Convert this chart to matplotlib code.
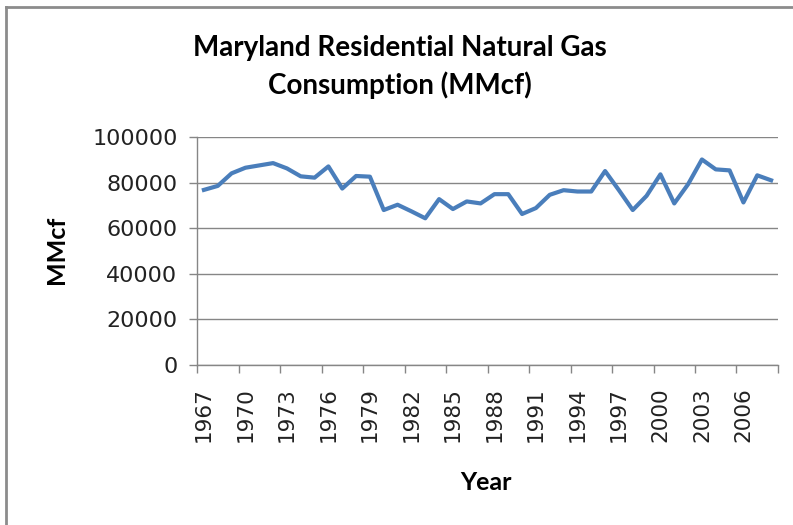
import numpy as np
import matplotlib.pyplot as plt
from matplotlib.lines import Line2D

# --- data ---
years = list(range(1967, 2009))
consumption = [76800, 78550, 84060, 86520, 87540, 88550, 86230, 82750, 82170, 87100,
               77390, 82900, 82600, 67970, 70290, 67400, 64350, 72750, 68400, 71740,
               70870, 74930, 74930, 66230, 68840, 74640, 76670, 76090, 76090, 85070,
               76670, 67970, 74200, 83620, 70870, 79280, 90140, 85800, 85360, 71300,
               83190, 81010]
yticks = [0, 20000, 40000, 60000, 80000, 100000]

W, H = 793, 525
fig = plt.figure(figsize=(W / 100, H / 100), dpi=100)
ax = fig.add_axes([197 / W, 1 - 365 / H, (778 - 197) / W, (365 - 137) / H])

x = np.arange(len(years))
ax.plot(x, consumption, color="#4a7ebb", lw=3.0, solid_joinstyle="round")

ax.set_xlim(-0.5, len(years) - 0.5)
ax.set_ylim(0, 100000)
ax.set_yticks(yticks)
ax.set_yticklabels([str(v) for v in yticks])
ax.grid(axis="y", color="#868686", lw=1.0)
ax.set_axisbelow(True)

# category axis: tick marks on boundaries every 3, labels on the categories
ax.set_xticks(np.arange(-0.5, len(years), 3))
ax.set_xticklabels([])
ax.set_xticks(x[::3], minor=True)
ax.set_xticklabels([str(y) for y in years[::3]], minor=True, rotation=90,
                   fontsize=15.5, family="DejaVu Sans", color="#222222")
ax.tick_params(axis="x", which="major", length=6, color="#868686", width=1)
ax.tick_params(axis="x", which="minor", length=0, pad=16)
ax.tick_params(axis="y", length=6, color="#868686", width=1, labelsize=16,
               labelcolor="#222222", pad=8)

for s in ["top", "right"]:
    ax.spines[s].set_visible(False)
for s in ["left", "bottom"]:
    ax.spines[s].set_color("#868686")
    ax.spines[s].set_linewidth(1)

fig.text(400 / W, 1 - 48 / H, "Maryland Residential Natural Gas", ha="center",
         va="center", fontsize=20, fontweight="bold", family="Lato")
fig.text(400 / W, 1 - 85 / H, "Consumption (MMcf)", ha="center",
         va="center", fontsize=20, fontweight="bold", family="Lato")
fig.text(57 / W, 1 - 250 / H, "MMcf", rotation=90, ha="center", va="center",
         fontsize=18, fontweight="bold", family="Lato")
fig.text(486 / W, 1 - 482 / H, "Year", ha="center", va="center",
         fontsize=18, fontweight="bold", family="Lato")

# outer chart border (left and top visible)
fig.add_artist(Line2D([6 / W, 6 / W], [0, 1 - 7 / H], color="#8c8c8c", lw=2))
fig.add_artist(Line2D([6 / W, 1], [1 - 7 / H, 1 - 7 / H], color="#8c8c8c", lw=2))

fig.savefig("out.png", dpi=100)
